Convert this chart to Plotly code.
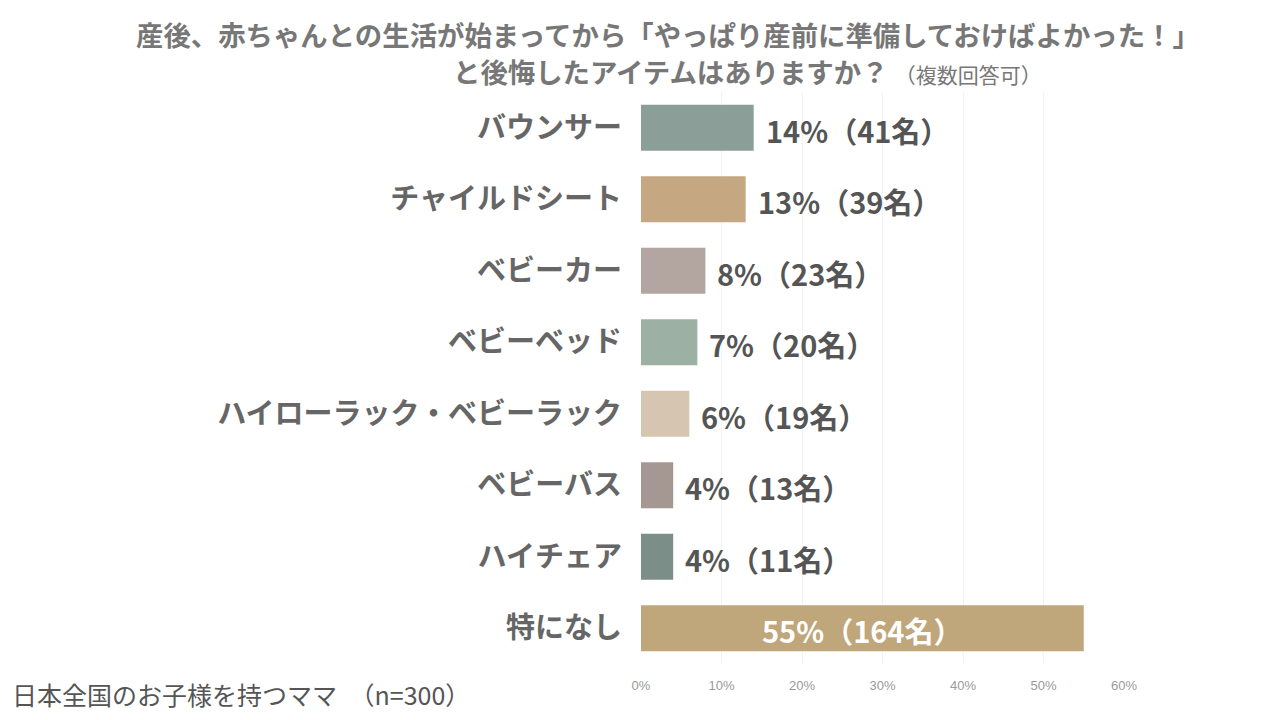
import plotly.graph_objects as go

# survey answers, top to bottom as shown
items = [
    "バウンサー",
    "チャイルドシート",
    "ベビーカー",
    "ベビーベッド",
    "ハイローラック・ベビーラック",
    "ベビーバス",
    "ハイチェア",
    "特になし",
]
percents = [14, 13, 8, 7, 6, 4, 4, 55]
counts = [41, 39, 23, 20, 19, 13, 11, 164]
bar_colors = [
    "#8c9e98", "#c5a882", "#b3a59f", "#9db0a4",
    "#d6c5b0", "#a59892", "#7b8e88", "#bfa67b",
]
x_ticks = [0, 10, 20, 30, 40, 50, 60]

FONT = "Noto Sans CJK JP"

# page body margin pushes the figure by ~8px
OFF = 8
W, H = 1280, 720
# plot area in page pixels
PX0, PX1, PY0, PY1 = 641, 1124, 92, 664
L, T = PX0 - OFF, PY0 - OFF
R, B = W - (PX1 - OFF), H - (PY1 - OFF)
PW = PX1 - PX0
PH = PY1 - PY0


def px_x(px):
    return (px - PX0) / PW


def px_y(py):
    return (PY1 - py) / PH


fig = go.Figure()
fig.add_trace(
    go.Bar(
        x=percents,
        y=items,
        orientation="h",
        width=0.64,
        marker=dict(color=bar_colors, line=dict(width=0)),
        hoverinfo="skip",
    )
)

labels = [f"{p}%（{c}名）" for p, c in zip(percents, counts)]
annotations = []
for item, p, lab in zip(items, percents, labels):
    if p > 30:
        # big bar: label sits inside in white
        annotations.append(dict(
            x=p / 2, y=item, xref="x", yref="y", text=f"<b>{lab}</b>",
            showarrow=False, xanchor="center", yanchor="middle", yshift=-2,
            font=dict(family=FONT, size=29, color="white"),
        ))
    else:
        annotations.append(dict(
            x=p, y=item, xref="x", yref="y", text=f"<b>{lab}</b>",
            showarrow=False, xanchor="left", yanchor="middle",
            xshift=10, yshift=-2,
            font=dict(family=FONT, size=29, color="#555555"),
        ))

# title lines
annotations.append(dict(
    x=px_x(668), y=px_y(34), xref="paper", yref="paper",
    text="<b>産後、赤ちゃんとの生活が始まってから「やっぱり産前に準備しておけばよかった！」</b>",
    showarrow=False, xanchor="center", yanchor="middle",
    font=dict(family=FONT, size=27.4, color="#777777"),
))
annotations.append(dict(
    x=px_x(451), y=px_y(71), xref="paper", yref="paper",
    text="<b>と後悔したアイテムはありますか？</b> <span style='font-size:21px'>（複数回答可）</span>",
    showarrow=False, xanchor="left", yanchor="middle",
    font=dict(family=FONT, size=27.4, color="#777777"),
))
# sample note
annotations.append(dict(
    x=px_x(10), y=px_y(694), xref="paper", yref="paper",
    text="日本全国のお子様を持つママ　（n=300）",
    showarrow=False, xanchor="left", yanchor="middle",
    font=dict(family=FONT, size=25, color="#555555"),
))

fig.update_layout(
    width=W,
    height=H,
    margin=dict(l=L, r=R, t=T, b=B),
    paper_bgcolor="white",
    plot_bgcolor="white",
    showlegend=False,
    annotations=annotations,
    xaxis=dict(
        range=[0, 60],
        tickvals=x_ticks,
        ticktext=[f"{v}%" for v in x_ticks],
        tickfont=dict(family="Liberation Sans", size=13, color="#9a9a9a"),
        ticklabelstandoff=12,
        showgrid=True,
        gridcolor="#f3f3f3",
        zeroline=False,
        showline=False,
        ticks="",
        fixedrange=True,
    ),
    yaxis=dict(
        categoryorder="array",
        categoryarray=items[::-1],
        tickfont=dict(family=FONT, size=29, color="#666666"),
        tickprefix="<b>",
        ticksuffix="</b>",
        ticklabelstandoff=18,
        showgrid=False,
        zeroline=False,
        showline=False,
        ticks="",
        fixedrange=True,
    ),
)

fig.write_html("out.html")
